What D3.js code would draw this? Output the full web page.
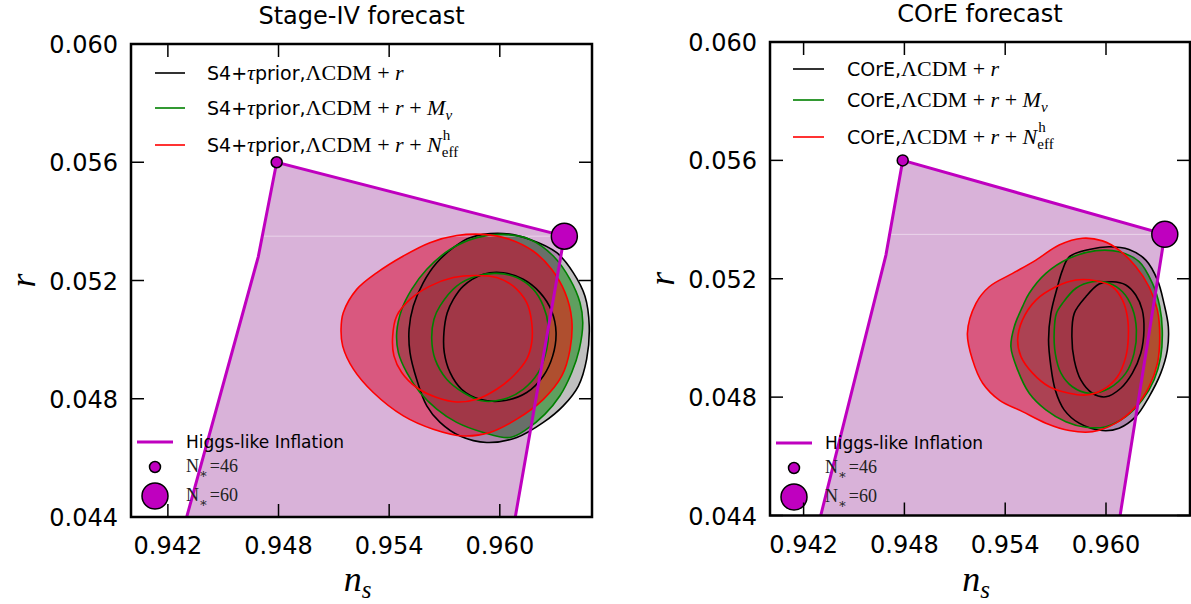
<!DOCTYPE html>
<html><head><meta charset="utf-8">
<script src="https://cdn.jsdelivr.net/npm/d3@7"></script>
<style>body{margin:0;background:#fff} svg{display:block}</style>
</head><body>
<svg id="c" width="1191" height="604"></svg>
<script>
// ---------------- data ----------------
const xTicks = [0.942, 0.948, 0.954, 0.960];
const yTicks = [0.044, 0.048, 0.052, 0.056, 0.060];
const xDomain = [0.940, 0.965];
const yDomain = [0.044, 0.060];
const titles = ["Stage-IV forecast", "COrE forecast"];
// Higgs-like inflation band edge (ns, r)
const higgsEdge = [[0.9428,0.0435],[0.9469,0.0528],[0.9479,0.0560],[0.9635,0.0535],[0.9607,0.0435]];
const higgsN = [46, 60];
const higgsPts = [[0.9479,0.0560],[0.9635,0.0535]];

// Stage-IV (S4 + tau prior) contours
const s4_lcdm_95 = [[0.95838,0.05345],[0.96019,0.05359],[0.96164,0.05339],[0.96309,0.05294],[0.96399,0.05226],[0.96462,0.05147],[0.96485,0.05046],[0.96471,0.04934],[0.96426,0.04843],[0.96344,0.04776],[0.96236,0.04720],[0.96092,0.04669],[0.95929,0.04652],[0.95784,0.04674],[0.95676,0.04720],[0.95604,0.04776],[0.95549,0.04866],[0.95513,0.04956],[0.95508,0.05035],[0.95531,0.05114],[0.95585,0.05193],[0.95658,0.05260],[0.95748,0.05311]];
const s4_lcdm_68 = [[0.95802,0.05181],[0.95911,0.05221],[0.96019,0.05226],[0.96127,0.05204],[0.96218,0.05159],[0.96281,0.05097],[0.96305,0.05024],[0.96287,0.04945],[0.96236,0.04877],[0.96146,0.04821],[0.96019,0.04793],[0.95893,0.04798],[0.95793,0.04832],[0.95730,0.04889],[0.95699,0.04956],[0.95697,0.05024],[0.95715,0.05091],[0.95748,0.05136]];
const s4_mnu_95 = [[0.95522,0.05170],[0.95604,0.05238],[0.95730,0.05305],[0.95875,0.05345],[0.96019,0.05356],[0.96164,0.05339],[0.96290,0.05283],[0.96381,0.05204],[0.96435,0.05125],[0.96450,0.05058],[0.96431,0.04967],[0.96390,0.04889],[0.96326,0.04810],[0.96245,0.04748],[0.96146,0.04697],[0.96055,0.04669],[0.95911,0.04686],[0.95766,0.04720],[0.95658,0.04765],[0.95567,0.04821],[0.95495,0.04889],[0.95450,0.04956],[0.95441,0.05024],[0.95468,0.05102]];
const s4_mnu_68 = [[0.95676,0.05114],[0.95766,0.05181],[0.95875,0.05215],[0.95983,0.05224],[0.96092,0.05210],[0.96182,0.05170],[0.96236,0.05114],[0.96263,0.05046],[0.96254,0.04967],[0.96209,0.04889],[0.96127,0.04832],[0.96019,0.04798],[0.95902,0.04793],[0.95802,0.04821],[0.95712,0.04866],[0.95649,0.04934],[0.95631,0.05001],[0.95643,0.05069]];
const s4_neff_95 = [[0.95151,0.05091],[0.95224,0.05170],[0.95332,0.05226],[0.95477,0.05283],[0.95621,0.05328],[0.95766,0.05352],[0.95911,0.05356],[0.96055,0.05339],[0.96182,0.05299],[0.96281,0.05238],[0.96354,0.05159],[0.96390,0.05069],[0.96381,0.04967],[0.96336,0.04877],[0.96236,0.04798],[0.96092,0.04731],[0.95947,0.04686],[0.95802,0.04674],[0.95639,0.04697],[0.95477,0.04742],[0.95314,0.04821],[0.95206,0.04900],[0.95148,0.04978],[0.95139,0.05035]];
const s4_neff_68 = [[0.95441,0.05080],[0.95513,0.05136],[0.95621,0.05181],[0.95748,0.05210],[0.95875,0.05217],[0.95983,0.05210],[0.96073,0.05181],[0.96146,0.05125],[0.96173,0.05058],[0.96173,0.04990],[0.96146,0.04934],[0.96073,0.04877],[0.95983,0.04832],[0.95875,0.04798],[0.95766,0.04789],[0.95658,0.04804],[0.95549,0.04838],[0.95468,0.04889],[0.95426,0.04945],[0.95419,0.05012]];

// COrE contours
const core_lcdm_95 = [[0.95781,0.05274],[0.95900,0.05299],[0.96019,0.05308],[0.96137,0.05299],[0.96237,0.05263],[0.96306,0.05196],[0.96345,0.05117],[0.96371,0.05038],[0.96365,0.04959],[0.96326,0.04881],[0.96256,0.04801],[0.96177,0.04734],[0.96078,0.04695],[0.95979,0.04687],[0.95840,0.04712],[0.95751,0.04757],[0.95698,0.04824],[0.95672,0.04903],[0.95658,0.04993],[0.95672,0.05083],[0.95711,0.05173],[0.95741,0.05229]];
const core_lcdm_68 = [[0.95880,0.05139],[0.95959,0.05182],[0.96038,0.05190],[0.96118,0.05179],[0.96177,0.05145],[0.96216,0.05094],[0.96226,0.05027],[0.96207,0.04948],[0.96157,0.04881],[0.96088,0.04830],[0.95999,0.04801],[0.95919,0.04813],[0.95850,0.04858],[0.95811,0.04925],[0.95797,0.05004],[0.95811,0.05083]];
const core_mnu_95 = [[0.95543,0.05151],[0.95642,0.05218],[0.95781,0.05269],[0.95940,0.05295],[0.96078,0.05291],[0.96197,0.05258],[0.96276,0.05185],[0.96320,0.05106],[0.96335,0.05027],[0.96326,0.04937],[0.96286,0.04858],[0.96216,0.04790],[0.96118,0.04734],[0.95999,0.04700],[0.95880,0.04698],[0.95761,0.04717],[0.95642,0.04757],[0.95543,0.04813],[0.95474,0.04892],[0.95434,0.04970],[0.95454,0.05038],[0.95503,0.05106]];
const core_mnu_68 = [[0.95741,0.05117],[0.95821,0.05168],[0.95919,0.05190],[0.96019,0.05185],[0.96098,0.05156],[0.96157,0.05100],[0.96181,0.05027],[0.96167,0.04948],[0.96118,0.04881],[0.96019,0.04830],[0.95900,0.04813],[0.95800,0.04835],[0.95732,0.04881],[0.95698,0.04948],[0.95692,0.05027],[0.95705,0.05083]];
const core_neff_95 = [[0.95226,0.05117],[0.95305,0.05173],[0.95444,0.05218],[0.95583,0.05263],[0.95721,0.05314],[0.95860,0.05337],[0.95979,0.05328],[0.96078,0.05297],[0.96177,0.05241],[0.96256,0.05173],[0.96306,0.05094],[0.96320,0.05004],[0.96306,0.04914],[0.96256,0.04835],[0.96177,0.04768],[0.96058,0.04712],[0.95919,0.04683],[0.95781,0.04687],[0.95642,0.04712],[0.95503,0.04751],[0.95365,0.04790],[0.95266,0.04847],[0.95206,0.04925],[0.95175,0.05016]];
const core_neff_68 = [[0.95503,0.05061],[0.95583,0.05128],[0.95702,0.05173],[0.95821,0.05196],[0.95940,0.05193],[0.96038,0.05173],[0.96098,0.05128],[0.96127,0.05072],[0.96133,0.05004],[0.96118,0.04937],[0.96068,0.04869],[0.95979,0.04824],[0.95880,0.04807],[0.95781,0.04813],[0.95662,0.04835],[0.95563,0.04881],[0.95494,0.04937],[0.95474,0.04993]];

const modelColors = ["#000000", "#008000", "#ff0000"];
const modelFills = ["#808080", "#008000", "#ff0000"];
const prefixLeft = "S4+";
const prefixRight = "COrE,";

// ---------------- drawing ----------------
const svg = d3.select("#c");
const SANS = "'DejaVu Sans', sans-serif";
const SERIF = "'Liberation Serif', 'DejaVu Serif', serif";

const panels = [
  {x0:131, x1:592, y0:44, y1:517, title:titles[0],
   contours:[[s4_lcdm_95,s4_lcdm_68],[s4_mnu_95,s4_mnu_68],[s4_neff_95,s4_neff_68]],
   leg:{lx0:155, lx1:185, tx:207, ys:[73,108,145], pre:[[prefixLeft,"sans"],["τ","mi"],["prior,","sans"]]},
   hl:{lx0:137, lx1:173, tx:186, y:442, cy:[467,496], cx:155}},
  {x0:770, x1:1190, y0:42, y1:515.5, title:titles[1],
   contours:[[core_lcdm_95,core_lcdm_68],[core_mnu_95,core_mnu_68],[core_neff_95,core_neff_68]],
   leg:{lx0:793, lx1:824, tx:847, ys:[69,100,137], pre:[[prefixRight,"sans"]]},
   hl:{lx0:776, lx1:812, tx:825, y:443, cy:[468,497], cx:794}}
];

function addSegs(t, segs){
  segs.forEach(([s,k])=>{
    const ts = t.append("tspan").text(s);
    if(k==="sans"){ ts.attr("font-family",SANS).attr("font-size",19); }
    else if(k==="mi"){ ts.attr("font-family",SERIF).attr("font-style","italic").attr("font-size",22); }
    else if(k==="m"){ ts.attr("font-family",SERIF).attr("font-size",22); }
    else if(k==="sub"){ ts.attr("font-family",SERIF).attr("font-size",15).attr("dy",5); }
    else if(k==="subi"){ ts.attr("font-family",SERIF).attr("font-style","italic").attr("font-size",15).attr("dy",5); }
  });
}

panels.forEach((p,pi)=>{
  const x = d3.scaleLinear().domain(xDomain).range([p.x0,p.x1]);
  const y = d3.scaleLinear().domain(yDomain).range([p.y1,p.y0]);
  const clipId = "clip"+pi;
  svg.append("clipPath").attr("id",clipId).append("rect")
    .attr("x",p.x0).attr("y",p.y0).attr("width",p.x1-p.x0).attr("height",p.y1-p.y0);
  const g = svg.append("g").attr("clip-path",`url(#${clipId})`);
  const line = d3.line().x(d=>x(d[0])).y(d=>y(d[1])).curve(d3.curveCatmullRomClosed.alpha(0.5));
  // 95% fills
  p.contours.forEach((c,i)=>{
    g.append("path").attr("d",line(c[0])).attr("fill",modelFills[i]).attr("fill-opacity",0.5).attr("stroke","none");
  });
  // Higgs band fill (on top of fills)
  const poly = higgsEdge.map(d=>[x(d[0]),y(d[1])]);
  g.append("path").attr("d","M"+poly.map(d=>d.join(",")).join("L")+"Z")
    .attr("fill","#800080").attr("fill-opacity",0.3);
  // faint artifact line
  g.append("line").attr("x1",x(xDomain[0])).attr("x2",x(higgsPts[1][0])).attr("y1",y(higgsPts[1][1])).attr("y2",y(higgsPts[1][1]))
    .attr("stroke","#fff").attr("stroke-opacity",0.45).attr("stroke-width",1);
  // contour lines
  p.contours.forEach((c,i)=>{
    c.forEach(cc=>{
      g.append("path").attr("d",line(cc)).attr("fill","none").attr("stroke",modelColors[i]).attr("stroke-width",1.6);
    });
  });
  // Higgs edge line
  g.append("path").attr("d",d3.line().x(d=>x(d[0])).y(d=>y(d[1]))(higgsEdge))
    .attr("fill","none").attr("stroke","#bf00bf").attr("stroke-width",3).attr("stroke-linejoin","miter");
  // markers
  const rad = [5.5, 13];
  higgsPts.forEach((d,i)=>{
    svg.append("circle").attr("cx",x(d[0])).attr("cy",y(d[1])).attr("r",rad[i])
      .attr("fill","#bf00bf").attr("stroke","#000").attr("stroke-width",1.5);
  });

  // legend (models)
  const L = p.leg;
  const tails = [
    [["ΛCDM","m"],[" + ","m"],["r","mi"]],
    [["ΛCDM","m"],[" + ","m"],["r","mi"],[" + ","m"],["M","mi"],["ν","subi"]],
    [["ΛCDM","m"],[" + ","m"],["r","mi"],[" + ","m"],["N","mi"],["eff","sub"]]
  ];
  L.ys.forEach((yy,i)=>{
    svg.append("line").attr("x1",L.lx0).attr("x2",L.lx1).attr("y1",yy).attr("y2",yy)
      .attr("stroke",modelColors[i]).attr("stroke-width",1.6);
    const t = svg.append("text").attr("x",L.tx).attr("y",yy+7).attr("fill","#000");
    addSegs(t, L.pre.concat(tails[i]));
    if(i===2){
      const last = t.selectAll("tspan").nodes().pop();
      const bb = last.getBBox();
      svg.append("text").attr("x",bb.x+1).attr("y",yy-5).attr("font-family",SERIF).attr("font-size",15).text("h");
    }
  });

  // legend (Higgs)
  const H = p.hl;
  svg.append("line").attr("x1",H.lx0).attr("x2",H.lx1).attr("y1",H.y).attr("y2",H.y)
    .attr("stroke","#bf00bf").attr("stroke-width",3);
  svg.append("text").attr("x",H.tx).attr("y",H.y+6).attr("font-family",SANS).attr("font-size",17).text("Higgs-like Inflation");
  higgsN.forEach((n,i)=>{
    svg.append("circle").attr("cx",H.cx).attr("cy",H.cy[i]).attr("r",rad[i])
      .attr("fill","#bf00bf").attr("stroke","#000").attr("stroke-width",1.5);
    const t = svg.append("text").attr("x",H.tx).attr("y",H.cy[i]+5).attr("font-family",SERIF).attr("font-size",18).attr("fill","#222");
    t.append("tspan").text("N");
    t.append("tspan").attr("font-size",13).attr("dy",6).text("∗");
    t.append("tspan").attr("dy",-6).attr("dx",2).text("=" + n);
  });

  // frame
  svg.append("rect").attr("x",p.x0).attr("y",p.y0).attr("width",p.x1-p.x0).attr("height",p.y1-p.y0)
    .attr("fill","none").attr("stroke","#000").attr("stroke-width",2.5);
  // ticks
  const tl = 13;
  xTicks.forEach(v=>{
    svg.append("line").attr("x1",x(v)).attr("x2",x(v)).attr("y1",p.y1).attr("y2",p.y1-tl).attr("stroke","#000").attr("stroke-width",1.5);
    svg.append("line").attr("x1",x(v)).attr("x2",x(v)).attr("y1",p.y0).attr("y2",p.y0+tl).attr("stroke","#000").attr("stroke-width",1.5);
    svg.append("text").attr("x",x(v)).attr("y",p.y1+37).attr("text-anchor","middle")
      .attr("font-family",SANS).attr("font-size",24).text(d3.format(".3f")(v));
  });
  yTicks.forEach(v=>{
    svg.append("line").attr("x1",p.x0).attr("x2",p.x0+tl).attr("y1",y(v)).attr("y2",y(v)).attr("stroke","#000").attr("stroke-width",1.5);
    svg.append("line").attr("x1",p.x1).attr("x2",p.x1-tl).attr("y1",y(v)).attr("y2",y(v)).attr("stroke","#000").attr("stroke-width",1.5);
    svg.append("text").attr("x",p.x0-13).attr("y",y(v)+9).attr("text-anchor","end")
      .attr("font-family",SANS).attr("font-size",24).text(d3.format(".3f")(v));
  });
  // title
  svg.append("text").attr("x",(p.x0+p.x1)/2).attr("y",p.y0-20).attr("text-anchor","middle")
    .attr("font-family",SANS).attr("font-size",24).text(p.title);
  // axis labels
  const xl = svg.append("text").attr("x",(p.x0+p.x1)/2-4).attr("y",591).attr("text-anchor","middle")
    .attr("font-family",SERIF).attr("font-style","italic").attr("font-size",36);
  xl.append("tspan").text("n");
  xl.append("tspan").attr("font-size",25).attr("dy",7).text("s");
  svg.append("text").attr("transform",`translate(${p.x0-96},${(p.y0+p.y1)/2}) rotate(-90)`).attr("text-anchor","middle")
    .attr("font-family",SERIF).attr("font-style","italic").attr("font-size",36).text("r");
});
</script>
</body></html>
